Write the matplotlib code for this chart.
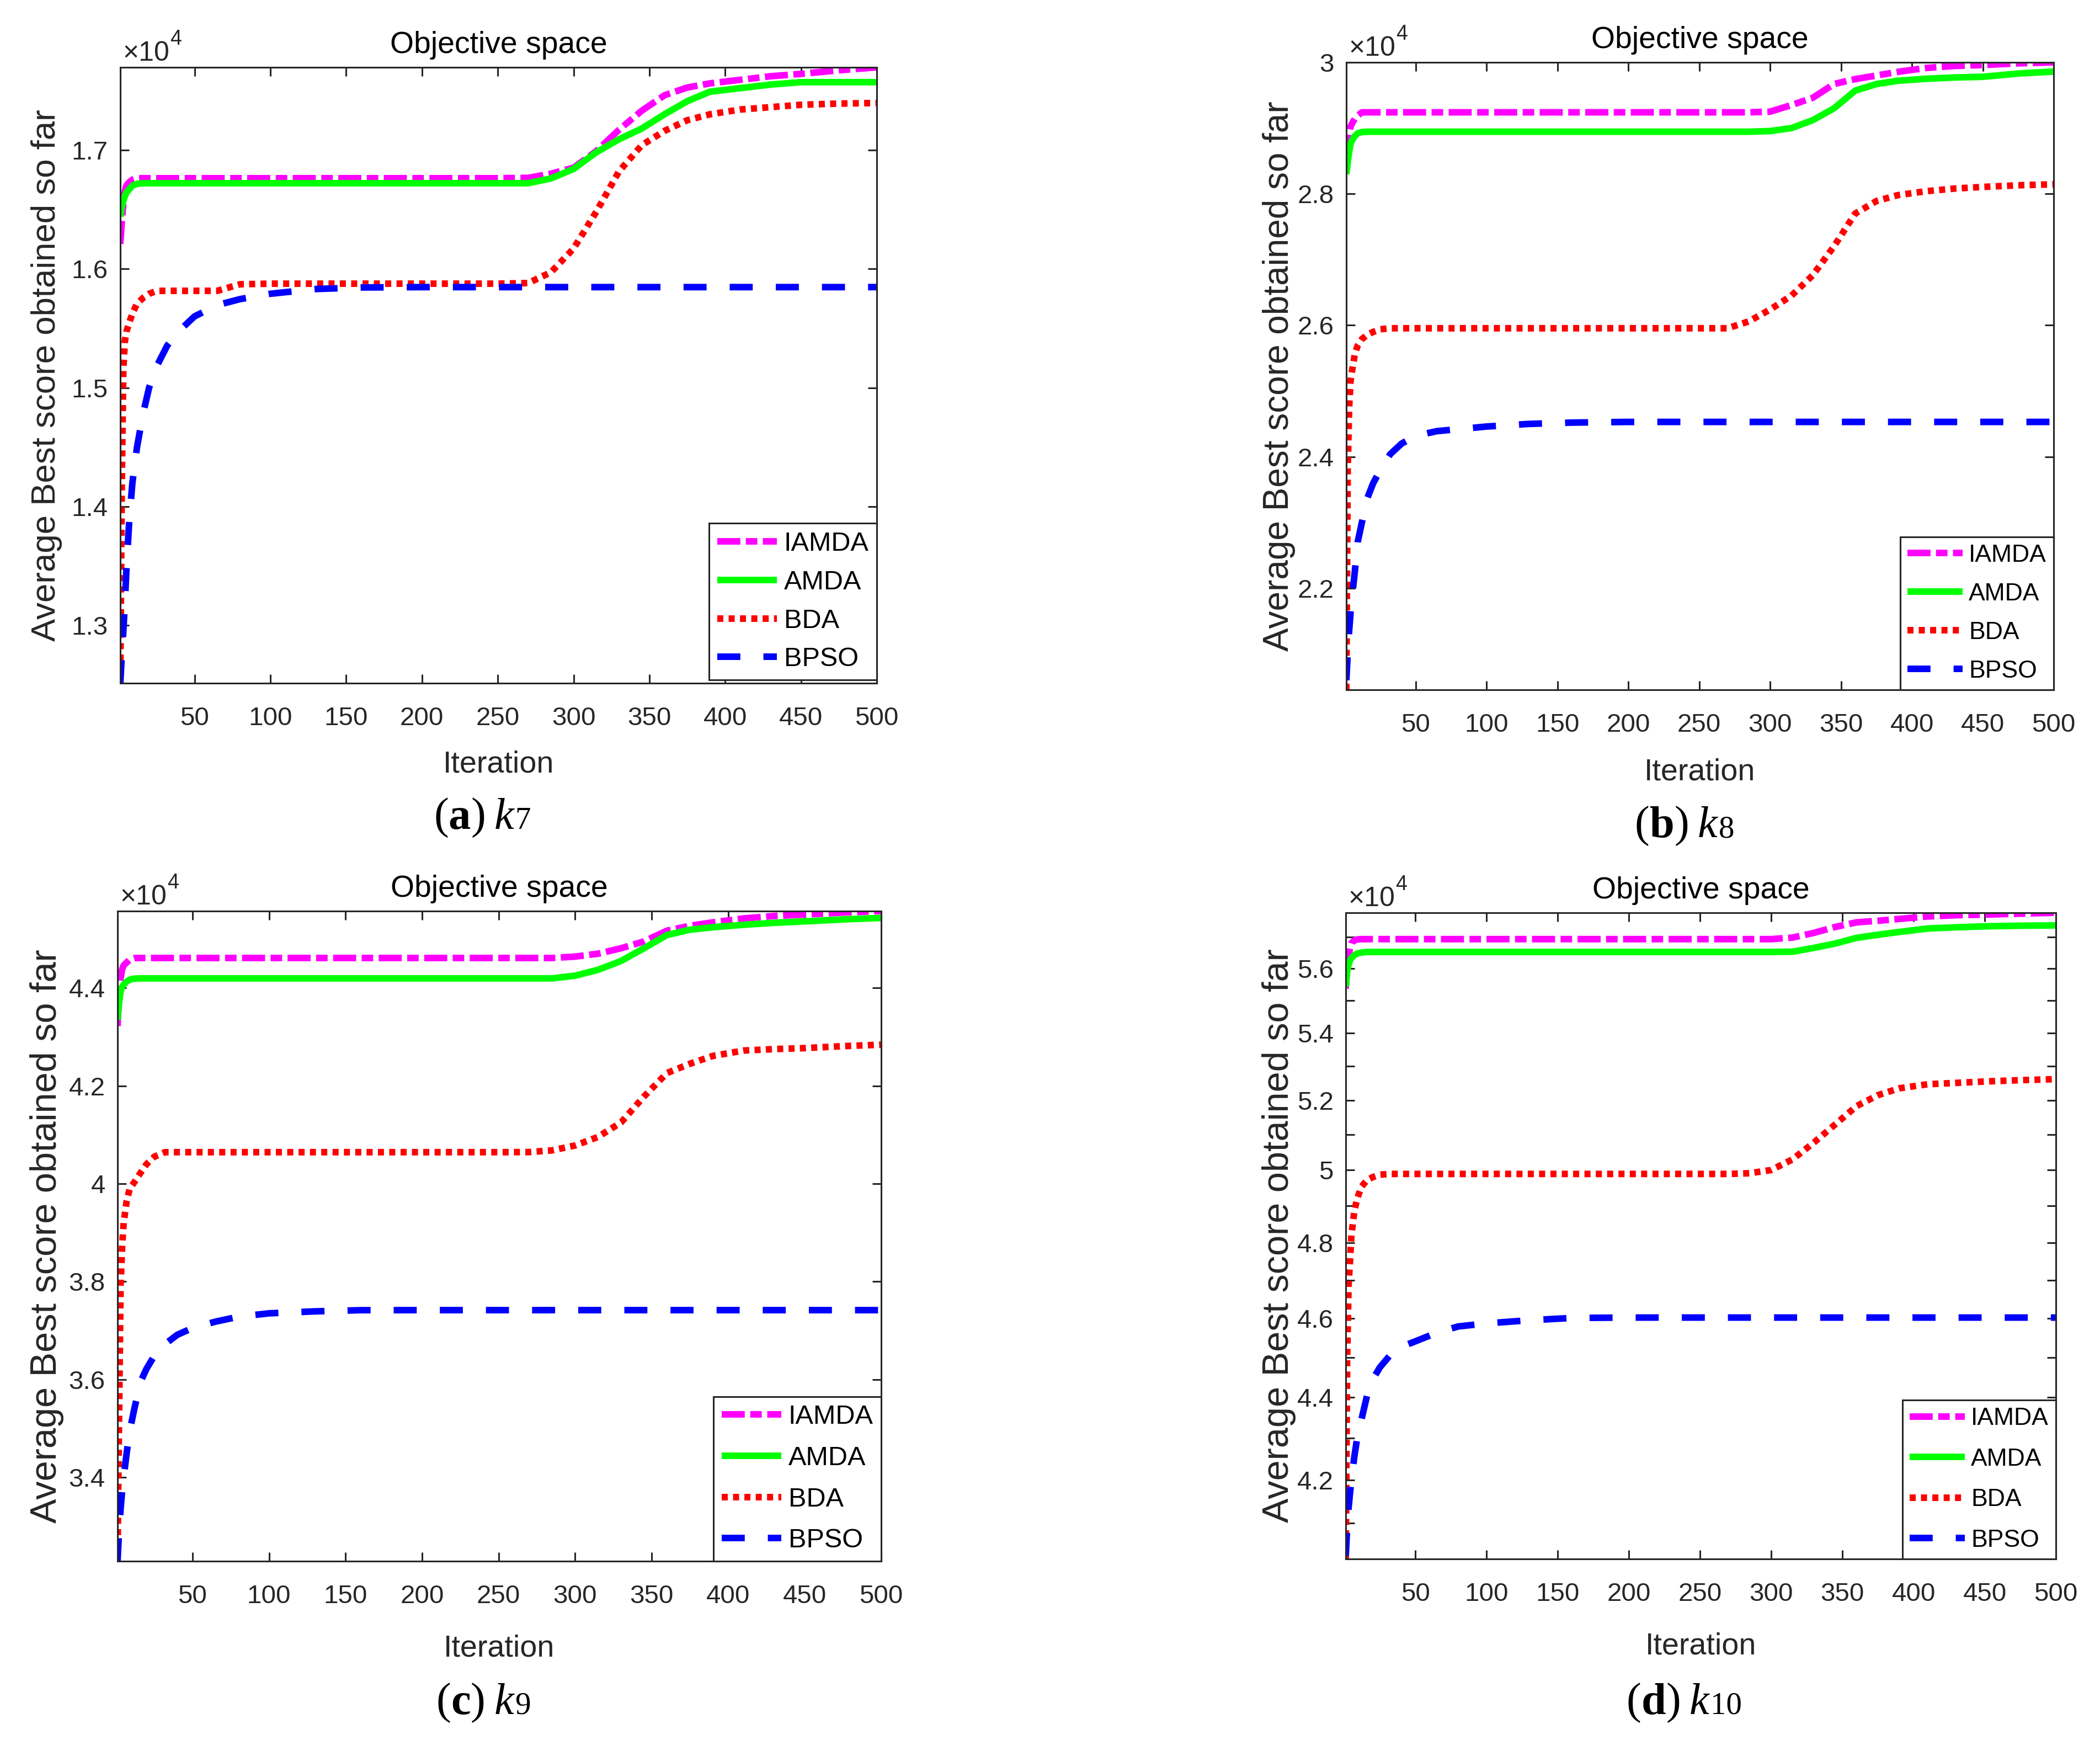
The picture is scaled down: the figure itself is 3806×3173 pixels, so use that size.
import matplotlib
matplotlib.use("Agg")
import matplotlib.pyplot as plt
from matplotlib import font_manager as fm
from matplotlib.ticker import FixedLocator, FixedFormatter, NullFormatter

# ---------------- data (values in units of 1e4) ----------------
ITER = [1, 2, 3, 4, 5, 7, 9, 12, 16, 20, 25, 32, 40, 50, 65, 80, 100, 130, 160,
        200, 250, 270, 285, 300, 315, 330, 345, 360, 375, 390, 410, 430, 450, 475, 500]
SERIES = ["IAMDA", "AMDA", "BDA", "BPSO"]
SCALE = 1e4

IAMDA_a = [1.621, 1.640, 1.655, 1.665, 1.670, 1.673, 1.675,
           1.6762, 1.6762, 1.6762, 1.6762, 1.6762, 1.6762, 1.6762, 1.6762, 1.6762, 1.6762, 1.6762, 1.6762, 1.6762, 1.6762,
           1.6765, 1.680, 1.685, 1.699, 1.717, 1.733, 1.746, 1.7525, 1.756, 1.759, 1.762, 1.764, 1.767, 1.7695]
AMDA_a = [1.644, 1.652, 1.657, 1.661, 1.664, 1.667, 1.670, 1.6715,
          1.672, 1.672, 1.672, 1.672, 1.672, 1.672, 1.672, 1.672, 1.672, 1.672, 1.672, 1.672, 1.672,
          1.672, 1.676, 1.684, 1.698, 1.709, 1.718, 1.730, 1.741, 1.749, 1.752, 1.755, 1.757, 1.757, 1.757]
BDA_a = [1.2514, 1.420, 1.515, 1.539, 1.547, 1.555, 1.5625, 1.5705, 1.5755, 1.579, 1.5814,
         1.5815, 1.5815, 1.5815, 1.5815,
         1.587, 1.5875, 1.5875, 1.5875, 1.5875, 1.5875,
         1.588, 1.597, 1.617, 1.648, 1.682, 1.704, 1.716, 1.725, 1.730, 1.734, 1.736, 1.738, 1.739, 1.7395]
BPSO_a = [1.2514, 1.275, 1.295, 1.318, 1.346, 1.390, 1.420, 1.4497, 1.478, 1.500, 1.518, 1.5355, 1.548,
          1.560, 1.5695, 1.5745, 1.579, 1.583, 1.5843,
          1.5846, 1.5846, 1.5846, 1.5846, 1.5846, 1.5846, 1.5846, 1.5846, 1.5846, 1.5846, 1.5846, 1.5846,
          1.5846, 1.5846, 1.5846, 1.5846]

IAMDA_b = [2.855, 2.875, 2.890, 2.902, 2.907, 2.914, 2.919, 2.924,
           2.924, 2.924, 2.924, 2.924, 2.924, 2.924, 2.924, 2.924, 2.924, 2.924, 2.924, 2.924, 2.924, 2.924, 2.924,
           2.925, 2.935, 2.946, 2.967, 2.9745, 2.980, 2.9855, 2.9915, 2.9945, 2.996, 2.9985, 3.000]
AMDA_b = [2.830, 2.848, 2.864, 2.876, 2.881, 2.888, 2.892, 2.894,
          2.8945, 2.8945, 2.8945, 2.8945, 2.8945, 2.8945, 2.8945, 2.8945, 2.8945, 2.8945, 2.8945, 2.8945, 2.8945,
          2.8945, 2.8945,
          2.8955, 2.900, 2.912, 2.930, 2.957, 2.967, 2.972, 2.975, 2.977, 2.978, 2.983, 2.986]
BDA_b = [2.0455, 2.380, 2.475, 2.515, 2.530, 2.556, 2.569, 2.579, 2.586, 2.590, 2.594,
         2.5955, 2.5955, 2.5955, 2.5955, 2.5955, 2.5955, 2.5955, 2.5955, 2.5955, 2.5955, 2.5955,
         2.606, 2.624, 2.645, 2.676, 2.720, 2.770, 2.789, 2.798, 2.804, 2.808, 2.8105, 2.813, 2.8145]
BPSO_b = [2.060, 2.100, 2.135, 2.163, 2.185, 2.225, 2.270, 2.300, 2.338, 2.360, 2.380, 2.404, 2.420,
          2.432, 2.439, 2.442, 2.446, 2.450, 2.452,
          2.453, 2.453, 2.453, 2.453, 2.453, 2.453, 2.453, 2.453, 2.453, 2.453, 2.453, 2.453,
          2.453, 2.453, 2.453, 2.453]

IAMDA_c = [4.322, 4.390, 4.420, 4.438, 4.446, 4.452, 4.458, 4.461,
           4.4612, 4.4612, 4.4612, 4.4612, 4.4612, 4.4612, 4.4612, 4.4612, 4.4612, 4.4612, 4.4612, 4.4612,
           4.4612, 4.4612, 4.4612,
           4.464, 4.470, 4.481, 4.495, 4.517, 4.527, 4.534, 4.542, 4.547, 4.550, 4.554, 4.557]
AMDA_c = [4.335, 4.370, 4.393, 4.402, 4.407, 4.413, 4.417, 4.419,
          4.4195, 4.4195, 4.4195, 4.4195, 4.4195, 4.4195, 4.4195, 4.4195, 4.4195, 4.4195, 4.4195, 4.4195,
          4.4195, 4.4195, 4.4195,
          4.425, 4.437, 4.455, 4.481, 4.508, 4.519, 4.524, 4.529, 4.533, 4.536, 4.540, 4.543]
BDA_c = [3.2353, 3.520, 3.794, 3.870, 3.920, 3.965, 3.990, 4.003, 4.022, 4.040, 4.055,
         4.0643, 4.0643, 4.0643, 4.0643, 4.0643, 4.0643, 4.0643, 4.0643, 4.0643, 4.0643,
         4.0645, 4.068, 4.078, 4.0955, 4.125, 4.178, 4.226, 4.245, 4.261, 4.272, 4.275, 4.277, 4.281, 4.284]
BPSO_c = [3.2285, 3.290, 3.335, 3.372, 3.400, 3.450, 3.495, 3.540, 3.595, 3.622, 3.648, 3.672, 3.691,
          3.705, 3.718, 3.728, 3.735, 3.739, 3.7414,
          3.7415, 3.7415, 3.7415, 3.7415, 3.7415, 3.7415, 3.7415, 3.7415, 3.7415, 3.7415, 3.7415, 3.7415,
          3.7415, 3.7415, 3.7415, 3.7415]

IAMDA_d = [5.537, 5.600, 5.638, 5.665, 5.680, 5.689, 5.692,
           5.693, 5.693, 5.693, 5.693, 5.693, 5.693, 5.693, 5.693, 5.693, 5.693, 5.693, 5.693, 5.693, 5.693,
           5.693, 5.693, 5.693,
           5.698, 5.713, 5.732, 5.747, 5.752, 5.758, 5.766, 5.770, 5.772, 5.775, 5.778]
AMDA_d = [5.543, 5.592, 5.612, 5.625, 5.633, 5.642, 5.647, 5.650,
          5.652, 5.652, 5.652, 5.652, 5.652, 5.652, 5.652, 5.652, 5.652, 5.652, 5.652, 5.652, 5.652, 5.652,
          5.652, 5.652,
          5.653, 5.665, 5.679, 5.697, 5.707, 5.716, 5.727, 5.731, 5.734, 5.736, 5.737]
BDA_d = [4.018, 4.500, 4.690, 4.750, 4.820, 4.885, 4.920, 4.953, 4.972, 4.980, 4.987,
         4.989, 4.989, 4.989, 4.989, 4.989, 4.989, 4.989, 4.989, 4.989, 4.989, 4.989,
         4.991, 5.000, 5.030, 5.078, 5.130, 5.183, 5.215, 5.235, 5.247, 5.251, 5.255, 5.259, 5.262]
BPSO_d = [4.025, 4.090, 4.135, 4.170, 4.200, 4.255, 4.300, 4.345, 4.405, 4.445, 4.475, 4.505, 4.527,
          4.541, 4.563, 4.579, 4.587, 4.595, 4.601,
          4.602, 4.602, 4.602, 4.602, 4.602, 4.602, 4.602, 4.602, 4.602, 4.602, 4.602, 4.602,
          4.602, 4.602, 4.602, 4.602]

X_TICKS = [50, 100, 150, 200, 250, 300, 350, 400, 450, 500]
Y_TICKS_a = [1.3, 1.4, 1.5, 1.6, 1.7]
Y_TICKS_b = [2.2, 2.4, 2.6, 2.8, 3.0]
Y_TICKS_c = [3.4, 3.6, 3.8, 4.0, 4.2, 4.4]
Y_TICKS_d = [4.2, 4.4, 4.6, 4.8, 5.0, 5.2, 5.4, 5.6]
Y_MINOR_d = [4.1, 4.3, 4.5, 4.7, 4.9, 5.1, 5.3, 5.5, 5.7]
CAPTIONS = [("a", "7"), ("b", "8"), ("c", "9"), ("d", "10")]
TITLE = "Objective space"
XLABEL = "Iteration"
YLABEL = "Average Best score obtained so far"

# ---------------- style ----------------
W, H, DPI = 3806, 3173, 100
names = {f.name for f in fm.fontManager.ttflist}
NARROW_OK = "Liberation Sans Narrow" in names
NARROW = "Liberation Sans Narrow" if NARROW_OK else "Liberation Sans"
K = 1.0 if NARROW_OK else 0.9   # shrink sizes when no narrow face exists
SANS = "Liberation Sans"
SERIF = "Liberation Serif"
plt.rcParams["font.family"] = [NARROW, "DejaVu Sans"]
AXC = "#262626"

LW = 8.6  # pt  (~12 px)
STYLES = {
    "IAMDA": dict(color="#FF00FF", dashes=(3.5, 0.83, 1.75, 0.83)),
    "AMDA": dict(color="#00FF00", linestyle="-"),
    "BDA": dict(color="#FF0000", dashes=(0.92, 0.8)),
    "BPSO": dict(color="#0000FF", dashes=(3.5, 3.5)),
}

fig = plt.figure(figsize=(W / DPI, H / DPI), dpi=DPI)
fig.patch.set_facecolor("white")
renderer = fig.canvas.get_renderer()


def fx(px):
    return px / W


def fy(py):
    return 1 - py / H


def rich_text(x_px, base_px, pieces, ha="center"):
    arts = []
    total = 0
    for s, kw in pieces:
        kw = dict(kw)
        dy = kw.pop("dy", 0)
        gap = kw.pop("gap", 0)
        t = fig.text(0, 0, s, va="baseline", ha="left", **kw)
        w = t.get_window_extent(renderer).width
        arts.append((t, dy, w, gap))
        total += w + gap
    x0 = x_px - total / 2 if ha == "center" else x_px
    for t, dy, w, gap in arts:
        t.set_position((fx(x0), fy(base_px - dy)))
        x0 += w + gap


panels = [
    dict(box=(218, 1589, 122, 1238), data=[IAMDA_a, AMDA_a, BDA_a, BPSO_a], yt=Y_TICKS_a, log=False,
         xl_base=1400, cap=(874, 1502), ylab=(85, 44.5), legfs=35, lspace=0.51, legy=6),
    dict(box=(2440, 3722, 113, 1250), data=[IAMDA_b, AMDA_b, BDA_b, BPSO_b], yt=Y_TICKS_b, log=False,
         xl_base=1413, cap=(3053, 1517), ylab=(2318, 46), legfs=32, lspace=0.65, legy=0),
    dict(box=(213, 1597, 1651, 2829), data=[IAMDA_c, AMDA_c, BDA_c, BPSO_c], yt=Y_TICKS_c, log=False,
         xl_base=3002, cap=(876, 3106), ylab=(85, 48), legfs=35, lspace=0.61, legy=0),
    dict(box=(2439, 3726, 1654, 2825), data=[IAMDA_d, AMDA_d, BDA_d, BPSO_d], yt=Y_TICKS_d, log=True,
         xl_base=2998, cap=(3052, 3106), ylab=(2318, 48), legfs=32, lspace=0.73, legy=0),
]

for p, (letter, sub) in zip(panels, CAPTIONS):
    l, r, t, b = p["box"]
    ax = fig.add_axes([fx(l), fy(b), fx(r - l), (b - t) / H])
    for name, vals in zip(SERIES, p["data"]):
        st = STYLES[name]
        kw = dict(color=st["color"], lw=LW, label=name, dash_capstyle="butt",
                  solid_capstyle="butt", solid_joinstyle="round", dash_joinstyle="round")
        if "dashes" in st:
            kw["dashes"] = st["dashes"]
        ax.plot(ITER, [v * SCALE for v in vals], **kw)
    allv = [v for s in p["data"] for v in s]
    ax.set_xlim(1, 500)
    if p["log"]:
        ax.set_yscale("log")
    ax.set_ylim(min(allv) * SCALE, max(allv) * SCALE)
    ax.xaxis.set_major_locator(FixedLocator(X_TICKS))
    ax.xaxis.set_major_formatter(FixedFormatter([str(v) for v in X_TICKS]))
    ax.xaxis.set_minor_locator(FixedLocator([]))
    ax.yaxis.set_major_locator(FixedLocator([v * SCALE for v in p["yt"]]))
    ax.yaxis.set_major_formatter(FixedFormatter(["%g" % v for v in p["yt"]]))
    if p["log"]:
        ax.yaxis.set_minor_locator(FixedLocator([v * SCALE for v in Y_MINOR_d]))
    else:
        ax.yaxis.set_minor_locator(FixedLocator([]))
    ax.yaxis.set_minor_formatter(NullFormatter())
    ax.tick_params(which="both", direction="in", length=11.5, width=2.2, color=AXC,
                   top=True, right=True, labelcolor=AXC, labelsize=38 * K)
    ax.tick_params(axis="x", pad=30)
    ax.tick_params(axis="y", pad=16)
    for sp in ax.spines.values():
        sp.set_linewidth(2.2)
        sp.set_color(AXC)

    leg = ax.legend(loc="lower right", bbox_to_anchor=(1, p["legy"] / (b - t)), borderaxespad=0,
                    fontsize=p["legfs"], handlelength=2.24, handletextpad=0.25, borderpad=0.3,
                    labelspacing=p["lspace"], frameon=True, fancybox=False, framealpha=1)
    leg.get_frame().set_edgecolor(AXC)
    leg.get_frame().set_linewidth(2.2)
    for txt in leg.get_texts():
        txt.set_color("black")

    cx = (l + r) / 2
    fig.text(fx(cx), fy(t - 26), TITLE, ha="center", va="baseline", fontsize=46 * K * 0.96, color="black")
    fig.text(fx(cx), fy(p["xl_base"]), XLABEL, ha="center", va="baseline", fontsize=46 * K * 0.97, color=AXC)
    yx, yfs = p["ylab"]
    fig.text(fx(yx), fy((t + b) / 2), YLABEL, ha="center", va="center", rotation=90,
             fontsize=yfs, family=SANS, color=AXC)
    # x10^4 multiplier
    rich_text(l + 5, t - 12, [("\u00d710", dict(fontsize=40 * K, color=AXC)),
                              ("4", dict(fontsize=30 * K, color=AXC, dy=29))], ha="left")
    # caption
    capx, capb = p["cap"]
    rich_text(capx, capb, [("(", dict(fontsize=58, family=SERIF)),
                           (letter, dict(fontsize=58, family=SERIF, weight="bold")),
                           (")", dict(fontsize=58, family=SERIF, gap=16)),
                           ("k", dict(fontsize=58, family=SERIF, style="italic", gap=2)),
                           (sub, dict(fontsize=41, family=SERIF))])

fig.savefig("out.png", dpi=DPI, facecolor="white")
